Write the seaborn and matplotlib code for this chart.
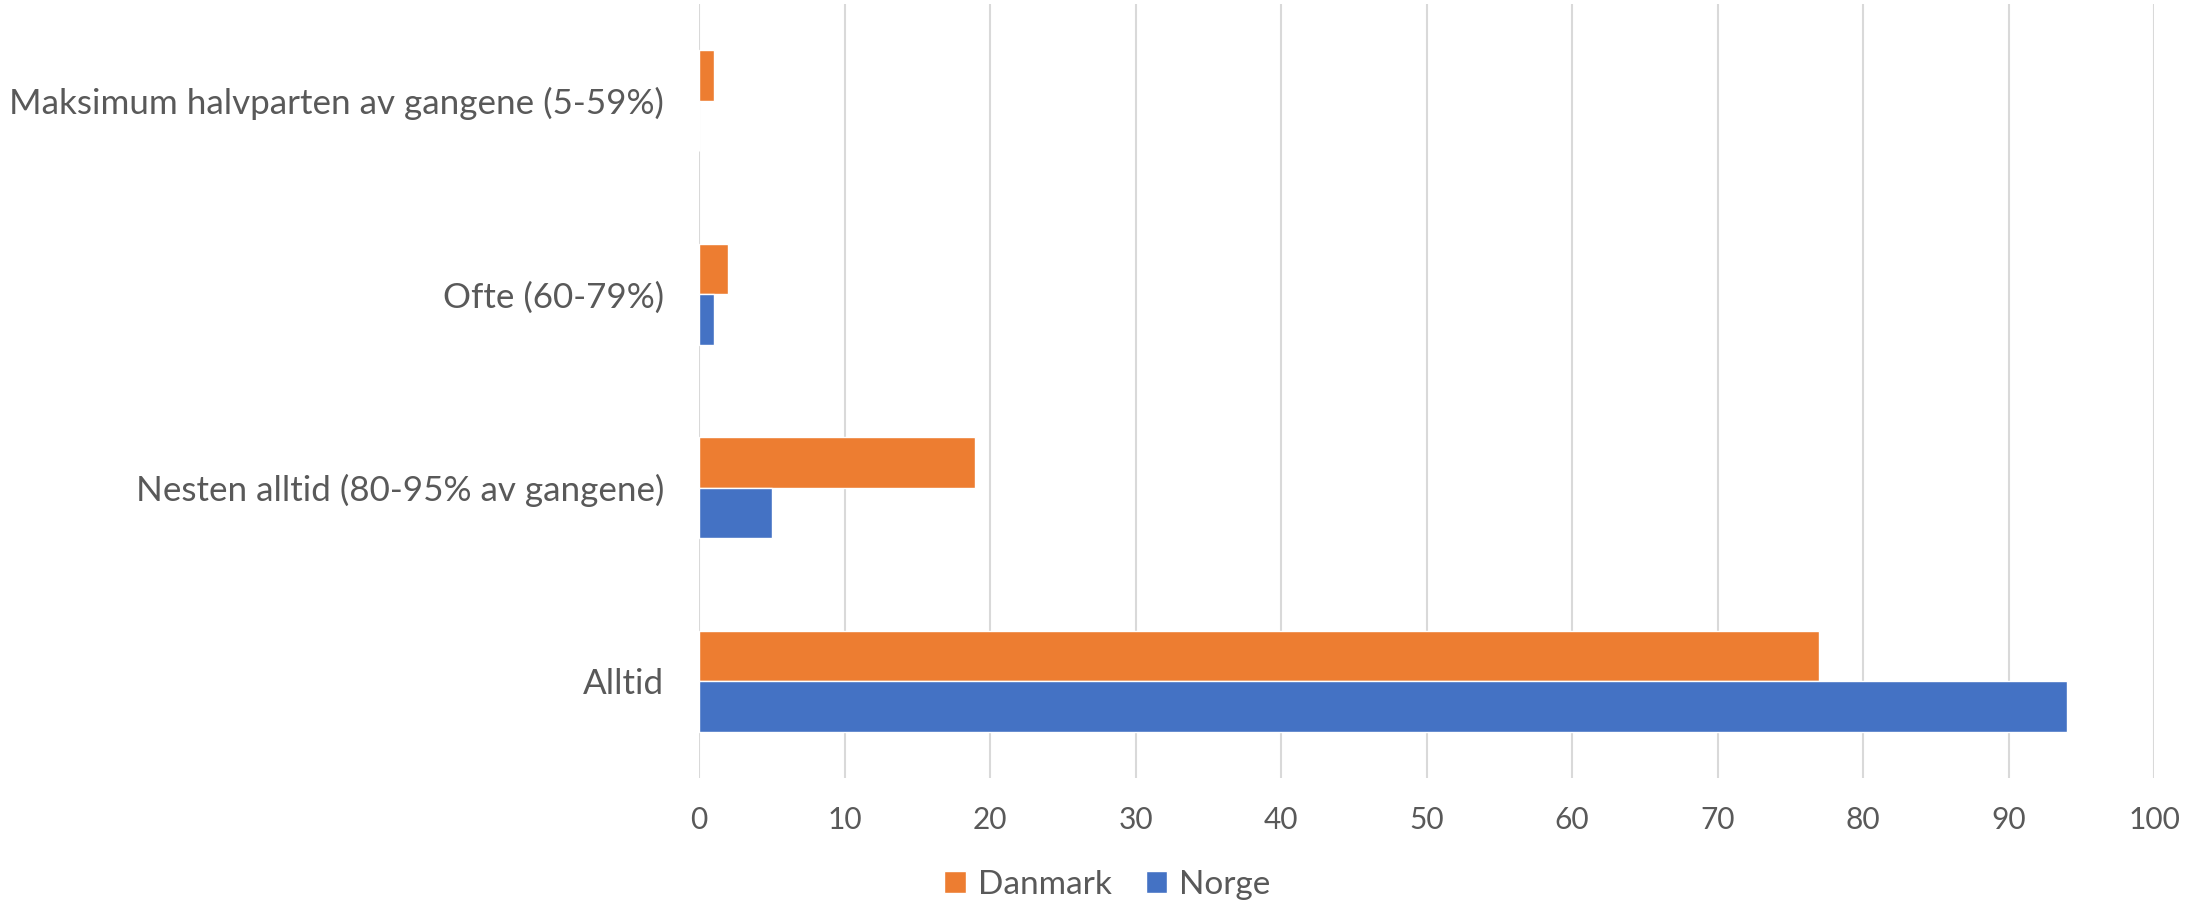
import pandas as pd
import matplotlib.pyplot as plt
import seaborn as sns

# Data
categories = ["Maksimum halvparten av gangene (5-59%)", "Ofte (60-79%)",
              "Nesten alltid (80-95% av gangene)", "Alltid"]
danmark = [1, 2, 19, 77]
norge = [0, 1, 5, 94]
x_ticks = list(range(0, 101, 10))

df = pd.DataFrame({
    "kategori": categories * 2,
    "verdi": danmark + norge,
    "land": ["Danmark"] * len(categories) + ["Norge"] * len(categories),
})

sns.set_theme(style="white")
plt.rcParams["font.family"] = ["Lato", "DejaVu Sans"]
text_color = "#595959"
palette = {"Danmark": "#ED7D31", "Norge": "#4472C4"}

fig = plt.figure(figsize=(22.03, 9.05), dpi=100)
ax = fig.add_axes([0.3173, 0.1403, 0.9778 - 0.3173, 0.9956 - 0.1403])

sns.barplot(data=df, x="verdi", y="kategori", hue="land", order=categories,
            hue_order=["Danmark", "Norge"], palette=palette, orient="h",
            width=0.52, saturation=1, ax=ax)

ax.set_xlim(0, 100)
ax.set_ylim(3.5, -0.5)
ax.set_xticks(x_ticks)
ax.xaxis.grid(True, color="#D9D9D9", linewidth=1.5)
ax.set_axisbelow(True)
for s in ax.spines.values():
    s.set_visible(False)
ax.set_xlabel("")
ax.set_ylabel("")
ax.tick_params(axis="both", length=0, labelcolor=text_color)
ax.tick_params(axis="x", labelsize=21.5, pad=20)
ax.tick_params(axis="y", labelsize=25.2, pad=25)

ax.legend(loc="center", ncol=2, frameon=False, fontsize=24, labelcolor=text_color,
          handlelength=0.64, handleheight=0.64, handletextpad=0.36,
          columnspacing=1.03)
# legend sits under the plot, centred on the whole figure
ax.get_legend().set_bbox_to_anchor((0.5027, 0.022), transform=fig.transFigure)

fig.savefig("out.png", dpi=100)
